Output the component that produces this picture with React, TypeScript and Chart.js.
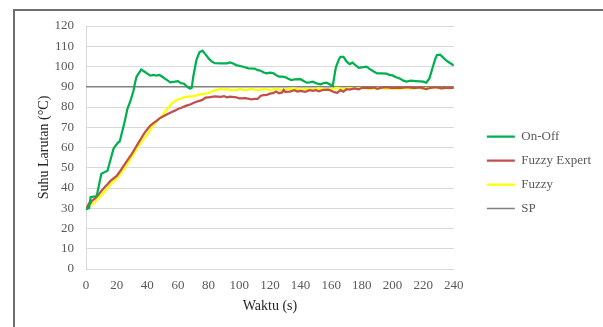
import React, { useEffect, useRef } from "react";
import { Chart, registerables } from "chart.js";

Chart.register(...registerables);

const onOffTime = [0, 2, 3, 7, 10, 14, 18, 21, 22, 25, 27, 29, 31, 32, 33, 36, 38, 40, 42, 44, 46, 48, 50, 52, 55, 58, 60, 62, 64, 66, 68, 69, 70, 72, 74, 76, 78, 80, 82, 84, 88, 92, 94, 96, 98, 102, 106, 110, 112, 114, 116, 118, 120, 122, 124, 126, 128, 130, 132, 134, 136, 140, 142, 144, 146, 148, 150, 153, 155, 157, 159, 161, 162, 163, 165, 166, 168, 170, 172, 174, 176, 178, 180, 183, 185, 188, 190, 193, 196, 198, 200, 202, 205, 207, 209, 212, 215, 218, 220, 222, 224, 225, 226, 227, 228, 229, 231, 233, 235, 237, 239, 240];
const onOffTemp = [29.5, 30, 35.5, 36, 47, 48.5, 59.5, 62.5, 63, 72, 79, 83, 88, 92, 95, 98.5, 97.5, 96.5, 95.5, 95.8, 95.5, 95.8, 94.8, 93.8, 92.2, 92.5, 92.8, 91.8, 91.5, 90, 89, 89.5, 95, 103, 107, 107.8, 106, 104, 102.5, 101.6, 101.5, 101.6, 102, 101.5, 100.7, 100, 99.1, 99, 98.2, 97.9, 97, 96.6, 97, 96.8, 95.8, 95, 95, 94.8, 94, 93.3, 93.6, 93.7, 92.8, 92, 92.2, 92.5, 91.8, 91.2, 91.8, 92, 91.2, 90.4, 95, 99.5, 103.5, 104.8, 104.8, 102.5, 101.2, 101.9, 100.5, 99.3, 99.6, 99.9, 98.8, 97.4, 96.6, 96.6, 96.5, 95.9, 95.6, 94.8, 94, 93, 92.5, 93, 92.8, 92.6, 92.5, 92, 94, 96.5, 99, 101.6, 104, 105.7, 105.8, 104.5, 103, 102, 101, 100.4];

const expertTime = [0, 1, 2, 3, 4, 6, 8, 10, 12, 14, 16, 18, 20, 22, 24, 26, 28, 30, 32, 34, 36, 38, 40, 42, 44, 46, 48, 50, 52, 54, 56, 58, 60, 62, 64, 66, 68, 70, 72, 74, 76, 78, 80, 84, 88, 90, 92, 94, 98, 100, 104, 108, 110, 112, 114, 116, 118, 120, 122, 124, 126, 128, 129, 130, 133, 136, 138, 140, 143, 146, 148, 150, 152, 155, 158, 160, 162, 164, 166, 168, 170, 172, 175, 178, 180, 183, 185, 188, 190, 193, 196, 200, 203, 206, 210, 214, 218, 222, 225, 228, 232, 236, 240];
const expertTemp = [29.5, 31, 32.4, 32.5, 33.8, 34.9, 36.5, 38.5, 40.2, 41.8, 43.5, 44.8, 46, 48, 50.3, 52.5, 54.8, 57, 59.5, 62, 64.5, 67, 69, 70.8, 72, 73.2, 74.4, 75.2, 76, 76.8, 77.5, 78.2, 79, 79.5, 80.2, 80.8, 81.2, 82, 82.6, 83, 83.5, 84.6, 84.8, 85.2, 85, 85.4, 84.8, 85.1, 84.8, 84.3, 84.4, 83.8, 84, 84, 85.6, 85.9, 86, 86.6, 86.8, 87.6, 86.8, 87.2, 88.4, 87.5, 87.6, 88.3, 87.6, 88, 87.5, 88.3, 88, 88.3, 87.8, 88.5, 88.6, 88, 87.3, 87, 88.3, 87.6, 88.8, 88.6, 89.2, 88.7, 89.5, 89.6, 89.3, 89.6, 89, 89.6, 89.8, 89.3, 89.6, 89.4, 89.8, 89.3, 89.7, 88.8, 89.5, 89.8, 89.2, 89.6, 89.4];

const fuzzyTime = [0, 2, 4, 6, 8, 10, 12, 14, 16, 18, 20, 22, 24, 26, 28, 30, 32, 34, 36, 38, 40, 42, 44, 46, 48, 50, 52, 54, 56, 58, 60, 62, 64, 66, 68, 70, 72, 74, 76, 78, 80, 82, 84, 86, 88, 90, 92, 94, 96, 98, 100, 104, 108, 112, 116, 120, 124, 128, 132, 136, 140, 144, 148, 152, 156, 160, 164, 168, 172, 176, 180, 184, 188, 192, 196, 200, 204, 208, 212, 216, 220, 224, 228, 232, 236, 240];
const fuzzyTemp = [29.5, 30.8, 32, 33.2, 34.8, 36.3, 38, 39.8, 41.8, 43.2, 44.6, 46.5, 48.6, 50.8, 53, 55.5, 58, 60.5, 62.7, 64.5, 66.5, 68.8, 71, 72.8, 74.4, 76, 78, 80, 81.8, 82.8, 83.8, 84.2, 84.8, 85, 85.2, 85.4, 85.6, 86.2, 86.4, 86.6, 87, 87.5, 88.2, 88.5, 88.9, 88.6, 88.8, 88.3, 88.4, 88.2, 88.8, 88.4, 88.9, 88.3, 88.8, 88.5, 89, 88.4, 88.9, 89.2, 88.5, 89, 88.6, 89.2, 88.7, 89, 89.4, 88.8, 89.3, 89, 89.4, 88.9, 89.2, 89.5, 89, 89.3, 88.8, 89.4, 89.1, 89.5, 89, 89.3, 89.6, 89.2, 89.5, 89.3];

const spTime = [0, 240];
const spTemp = [90, 90];

const seriesNames = ["On-Off", "Fuzzy Expert", "Fuzzy", "SP"];
const seriesColors = ["#00B050", "#C0504D", "#FFFF00", "#808080"];

const xMin = 0;
const xMax = 240;
const xStep = 20;
const yMin = 0;
const yMax = 120;
const yStep = 10;

const FONT = '"Liberation Serif", "Times New Roman", serif';

function toPoints(t: number[], v: number[]) {
  return t.map((x, i) => ({ x, y: v[i] }));
}

export default function App() {
  const ref = useRef<HTMLCanvasElement | null>(null);

  useEffect(() => {
    if (!ref.current) return;
    const seriesData = [
      toPoints(onOffTime, onOffTemp),
      toPoints(expertTime, expertTemp),
      toPoints(fuzzyTime, fuzzyTemp),
      toPoints(spTime, spTemp),
    ];
    const chart = new Chart(ref.current, {
      type: "line",
      data: {
        datasets: seriesNames.map((name, i) => ({
          label: name,
          data: seriesData[i],
          borderColor: seriesColors[i],
          backgroundColor: seriesColors[i],
          borderWidth: i === 3 ? 1.5 : 2.25,
          pointRadius: 0,
          tension: 0,
          fill: false,
        })),
      },
      options: {
        animation: false,
        responsive: false,
        maintainAspectRatio: false,
        layout: { padding: { top: 26, left: 0, right: 2, bottom: 8 } },
        plugins: {
          legend: {
            position: "right",
            maxWidth: 200,
            labels: {
              usePointStyle: true,
              pointStyle: "line",
              pointStyleWidth: 28,
              padding: 11,
              color: "#595959",
              font: { family: FONT, size: 13 },
            },
          },
          tooltip: { enabled: false },
        },
        scales: {
          x: {
            type: "linear",
            min: xMin,
            max: xMax,
            ticks: {
              stepSize: xStep,
              padding: 9,
              color: "#595959",
              font: { family: FONT, size: 13 },
              maxRotation: 0,
            },
            grid: { display: false, drawTicks: false },
            border: { display: true, color: "#d9d9d9", width: 1 },
            title: {
              display: true,
              text: "Waktu (s)",
              color: "#262626",
              font: { family: FONT, size: 14 },
              padding: { top: 0, bottom: 4.6 },
            },
            afterFit: (s: any) => {
              s.height = 50;
            },
          },
          y: {
            type: "linear",
            min: yMin,
            max: yMax,
            ticks: {
              stepSize: yStep,
              padding: 12,
              color: "#595959",
              font: { family: FONT, size: 13 },
            },
            grid: { color: "#d9d9d9", drawTicks: false, lineWidth: 1 },
            border: { display: true, color: "#d9d9d9", width: 1 },
            title: {
              display: true,
              text: "Suhu Larutan (°C)",
              color: "#262626",
              font: { family: FONT, size: 14 },
              padding: { top: 35.6, bottom: 0 },
            },
            afterFit: (s: any) => {
              s.width = 86;
            },
          },
          gap: {
            type: "linear",
            position: "right",
            display: true,
            grid: { display: false, drawTicks: false },
            ticks: { display: false },
            border: { display: false },
            afterFit: (s: any) => {
              s.width = 22;
            },
          },
        },
      } as any,
    });
    return () => chart.destroy();
  }, []);

  return (
    <div
      style={{
        position: "fixed",
        left: 0,
        top: 0,
        width: 603,
        height: 327,
        overflow: "hidden",
        background: "#ffffff",
      }}
    >
      <div
        style={{
          position: "absolute",
          left: 13,
          top: 9,
          width: 700,
          height: 400,
          borderLeft: "2px solid #6e6e6e",
          borderTop: "2px solid #6e6e6e",
        }}
      />
      <canvas
        ref={ref}
        width={603}
        height={327}
        style={{ position: "absolute", left: 0, top: 0, width: 603, height: 327 }}
      />
    </div>
  );
}
